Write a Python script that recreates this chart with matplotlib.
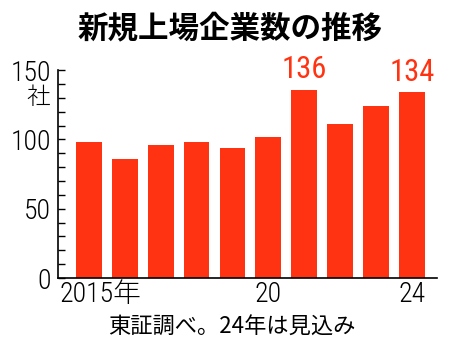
import matplotlib
matplotlib.use('Agg')
import matplotlib.pyplot as plt
from matplotlib import font_manager
from matplotlib.ticker import MultipleLocator
from matplotlib.transforms import ScaledTranslation

# 新規上場企業数（東証調べ、24年は見込み）
years = [2015, 2016, 2017, 2018, 2019, 2020, 2021, 2022, 2023, 2024]
counts = [98, 86, 96, 98, 94, 102, 136, 111, 124, 134]
tick_pos = [0, 5, 9]
tick_labels = ['2015年', '20', '24']
labelled = [6, 9]   # 数値を書く棒 (21年, 24年)

red = '#ff3311'

# 細身の数字フォントがあれば使う
installed = {f.name for f in font_manager.fontManager.ttflist}
narrow = [n for n in ['Liberation Sans Narrow', 'Roboto Condensed', 'Open Sans Condensed']
          if n in installed]
num_font = narrow[:1] + ['Noto Sans CJK JP', 'DejaVu Sans']
jp_font = ['Noto Sans CJK JP', 'DejaVu Sans']
num_size = 20 if narrow else 18
num_weight = 'light'

fig = plt.figure(figsize=(4.5, 3.56), dpi=100)
ax = fig.add_axes([0.129, 0.219, 0.842, 0.584])

x = list(range(len(years)))
ax.bar(x, counts, width=0.72, color=red, zorder=2)

for i in labelled:
    ax.text(x[i], counts[i] + 4, str(counts[i]), ha='center', va='bottom',
            color=red, fontsize=num_size + 2, family=num_font)

ax.set_xlim(-0.86, 9.7)
ax.set_ylim(0, 150)

ax.spines['top'].set_visible(False)
ax.spines['right'].set_visible(False)
ax.spines['left'].set_linewidth(1.2)
ax.spines['bottom'].set_linewidth(1.2)

ax.yaxis.set_major_locator(MultipleLocator(50))
ax.yaxis.set_minor_locator(MultipleLocator(10))
ax.tick_params(axis='y', which='both', direction='in', length=5, width=1)
ax.tick_params(axis='y', which='major', pad=5)
for lab in ax.get_yticklabels():
    lab.set_family(num_font)
    lab.set_fontsize(num_size)
    lab.set_fontweight(num_weight)

ax.set_xticks(tick_pos)
ax.set_xticklabels(tick_labels, family=num_font, fontsize=num_size, fontweight=num_weight)
ax.tick_params(axis='x', length=0, pad=2)
first = ax.get_xticklabels()[0]
first.set_ha('left')
first.set_transform(first.get_transform() + ScaledTranslation(-0.29, 0, fig.dpi_scale_trans))

# 単位
fig.text(50 / 450, 1 - 98 / 356, '社', ha='right', va='center', fontsize=17,
         family=jp_font, fontweight='light')

fig.text(0.511, 1 - 28 / 356, '新規上場企業数の推移', ha='center', va='center',
         fontsize=22, fontweight='bold', family=jp_font)
fig.text(0.515, 1 - 327 / 356, '東証調べ。24年は見込み', ha='center', va='center',
         fontsize=16, family=jp_font)

plt.savefig('out.png', dpi=100)
